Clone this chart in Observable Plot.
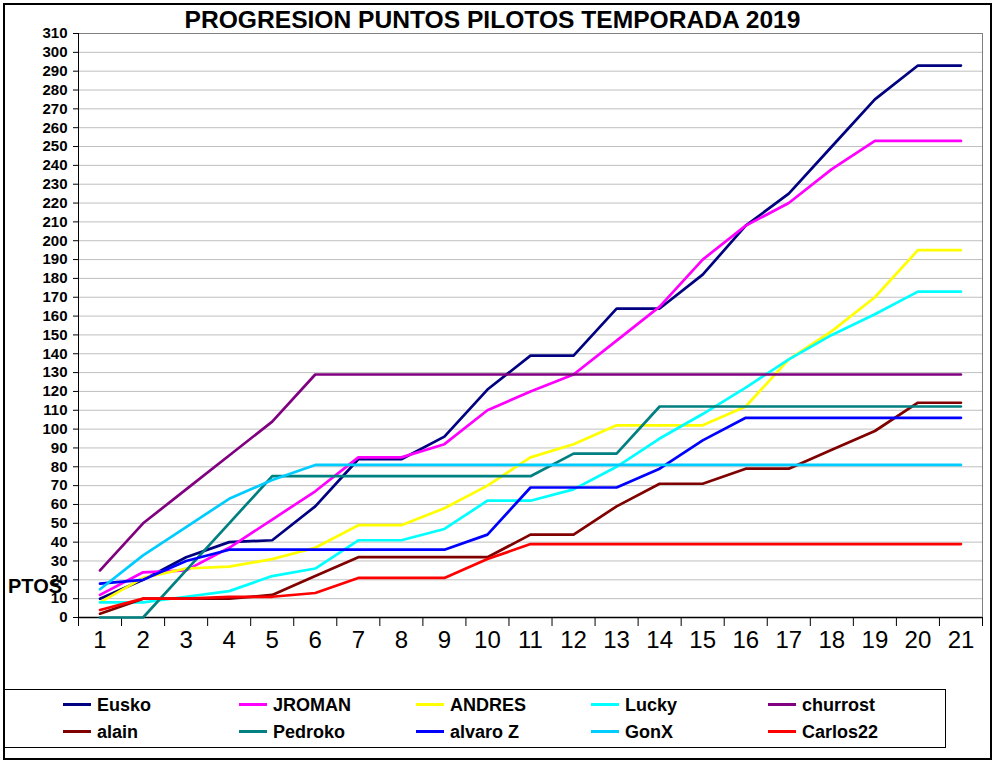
<!DOCTYPE html>
<html>
<head>
<meta charset="utf-8">
<script src="https://cdn.jsdelivr.net/npm/d3@7"></script>
<script src="https://cdn.jsdelivr.net/npm/@observablehq/plot@0.6"></script>
<style>
  html, body { margin: 0; padding: 0; background: #fff; }
  body { font-family: "Liberation Sans", Arial, sans-serif; }
  #wrap { position: relative; width: 997px; height: 762px; overflow: hidden; }
  #border { position: absolute; left: 3px; top: 3px; width: 985px; height: 753px; border: 2px solid #000; }
  #title { position: absolute; left: 0; width: 985px; top: 6px; text-align: center; font-weight: bold; font-size: 24.6px; }
  #chart { position: absolute; left: 0; top: 0; }
  #ptos { position: absolute; left: 8px; top: 575px; font-weight: bold; font-size: 20px; }
  #legend { position: absolute; left: 3px; top: 689px; width: 941px; height: 57px; border: 1.5px solid #000; }
  .item { position: absolute; font-weight: bold; font-size: 18px; line-height: 20px; white-space: nowrap; }
  .sw { display: inline-block; width: 28px; height: 3px; vertical-align: middle; margin-right: 6px; position: relative; top: -2px; }
</style>
</head>
<body>
<div id="wrap">
  <div id="chart"></div>
  <div id="border"></div>
  <div id="title">PROGRESION PUNTOS PILOTOS TEMPORADA 2019</div>
  <div id="ptos">PTOS</div>
  <div id="legend"></div>
</div>
<script>
const categories = [1,2,3,4,5,6,7,8,9,10,11,12,13,14,15,16,17,18,19,20,21];
const yTicks = [0,10,20,30,40,50,60,70,80,90,100,110,120,130,140,150,160,170,180,190,200,210,220,230,240,250,260,270,280,290,300,310];

const seriesNames = ["Eusko","JROMAN","ANDRES","Lucky","churrost","alain","Pedroko","alvaro Z","GonX","Carlos22"];
const seriesColors = ["#000080","#FF00FF","#FFFF00","#00FFFF","#800080","#800000","#008080","#0000FF","#00CCFF","#FF0000"];

const Eusko    = [10,20,32,40,41,59,84,84,96,121,139,139,164,164,182,208,225,250,275,293,293];
const JROMAN   = [12,24,25,37,52,67,85,85,92,110,120,129,147,165,190,208,220,238,253,253,253];
const ANDRES   = [8,21,26,27,31,37,49,49,58,70,85,92,102,102,102,112,137,152,170,195,195];
const Lucky    = [8,8,11,14,22,26,41,41,47,62,62,68,80,95,108,122,137,150,161,173,173];
const churrost = [25,50,68,86,104,129,129,129,129,129,129,129,129,129,129,129,129,129,129,129,129];
const alain    = [2,10,10,10,12,22,32,32,32,32,44,44,59,71,71,79,79,89,99,114,114];
const Pedroko  = [0,0,25,50,75,75,75,75,75,75,75,87,87,112,112,112,112,112,112,112,112];
const alvaroZ  = [18,20,30,36,36,36,36,36,36,44,69,69,69,79,94,106,106,106,106,106,106];
const GonX     = [15,33,48,63,73,81,81,81,81,81,81,81,81,81,81,81,81,81,81,81,81];
const Carlos22 = [4,10,10,11,11,13,21,21,21,31,39,39,39,39,39,39,39,39,39,39,39];

const seriesValues = [Eusko, JROMAN, ANDRES, Lucky, churrost, alain, Pedroko, alvaroZ, GonX, Carlos22];

const data = seriesNames.flatMap((name, i) =>
  categories.map((c, j) => ({name, race: c, pts: seriesValues[i][j]})));

const boundaries = [0, ...categories].map(c => c + 0.5);

const chart = Plot.plot({
  width: 997,
  height: 680,
  marginLeft: 78,
  marginRight: 15,
  marginTop: 33,
  marginBottom: 63,
  style: { fontFamily: "'Liberation Sans', Arial, sans-serif", background: "transparent", color: "#000" },
  x: { type: "linear", domain: [0.5, 21.5] },
  y: { domain: [0, 310] },
  color: { domain: seriesNames, range: seriesColors },
  marks: [
    Plot.gridY(yTicks, { stroke: "#bfbfbf", strokeOpacity: 1, strokeWidth: 1 }),
    Plot.ruleY([310], { stroke: "#808080", strokeWidth: 1 }),
    Plot.ruleX([21.5], { stroke: "#808080", strokeWidth: 1 }),
    Plot.axisY(yTicks, { tickSize: 5, tickPadding: 6, fontSize: 15, fontWeight: "bold", label: null, stroke: "#000" }),
    Plot.axisX(categories, { tickSize: 0, tickPadding: 13, fontSize: 24, label: null }),
    Plot.axisX(boundaries, { tickSize: 9, tickFormat: () => "", label: null, stroke: "#000" }),
    Plot.ruleX([0.5], { stroke: "#000", strokeWidth: 1 }),
    Plot.ruleY([0], { stroke: "#000", strokeWidth: 1.5 }),
    Plot.line(data, { x: "race", y: "pts", z: "name", stroke: "name", strokeWidth: 2.7, strokeLinejoin: "miter" })
  ]
});
document.getElementById("chart").appendChild(chart);

// legend
const legend = document.getElementById("legend");
const colX = [59, 235, 412, 587, 764];
const rowY = [5, 32];
seriesNames.forEach((name, i) => {
  const div = document.createElement("div");
  div.className = "item";
  div.style.left = colX[i % 5] + "px";
  div.style.top = rowY[Math.floor(i / 5)] + "px";
  const sw = document.createElement("span");
  sw.className = "sw";
  sw.style.background = seriesColors[i];
  div.appendChild(sw);
  div.appendChild(document.createTextNode(name));
  legend.appendChild(div);
});
</script>
</body>
</html>
